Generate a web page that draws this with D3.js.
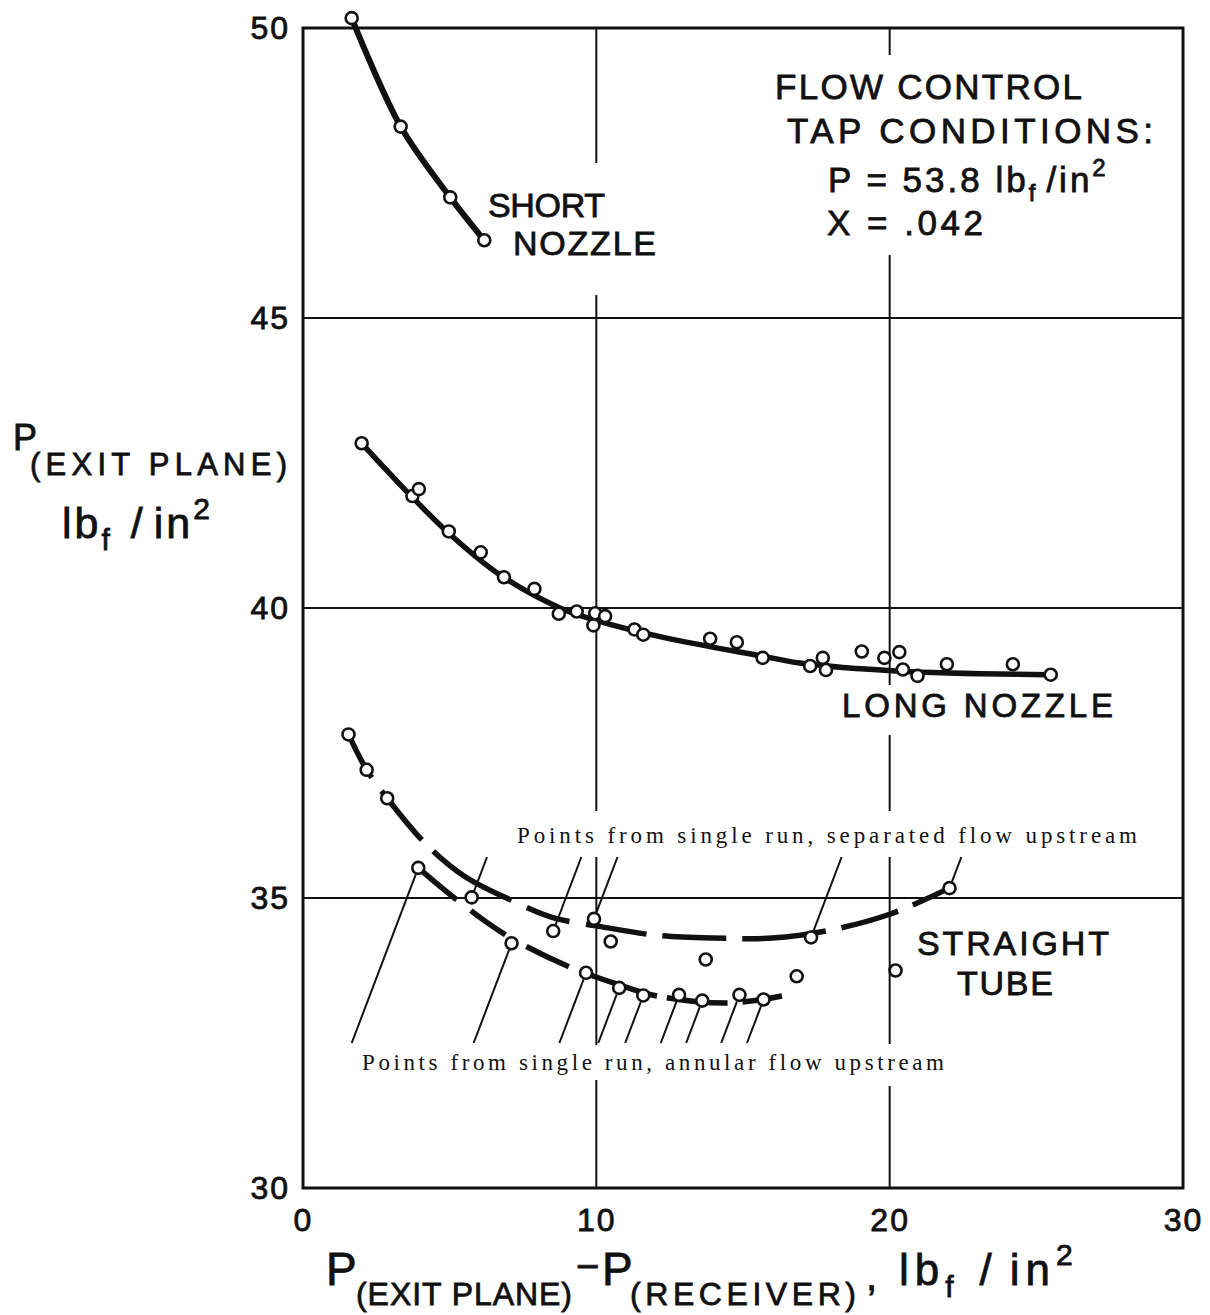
<!DOCTYPE html>
<html>
<head>
<meta charset="utf-8">
<script src="https://cdn.jsdelivr.net/npm/d3@7"></script>
<style>
  body { margin: 0; background: #fff; }
  svg { display: block; }
  .letter { font-family: "Liberation Sans", Arial, sans-serif; fill: #111; stroke: #111; stroke-width: 0.8px; }
  .serif { font-family: "Liberation Serif", serif; fill: #111; }
</style>
</head>
<body>
<svg id="chart" width="1210" height="1315"></svg>
<script>
// axis values
const xTicks = [0, 10, 20, 30];
const yTicks = [30, 35, 40, 45, 50];
const xGrid = [10, 20];
const yGrid = [35, 40, 45];

// measured points [dP, P exit plane]
const shortNozzle = [[1.66, 50.17], [3.33, 48.30], [5.02, 47.08], [6.18, 46.34]];

const longNozzle = [
  [2.0, 42.84], [3.73, 41.93], [3.95, 42.05], [4.97, 41.32], [6.06, 40.96],
  [6.85, 40.53], [7.89, 40.33], [8.72, 39.90], [9.33, 39.94], [9.96, 39.91],
  [10.3, 39.86], [9.9, 39.70], [11.3, 39.63], [11.6, 39.54], [13.88, 39.47],
  [14.79, 39.41], [15.67, 39.14], [17.29, 39.0], [17.72, 39.14], [17.83, 38.93],
  [19.05, 39.25], [19.82, 39.14], [20.33, 39.24], [20.45, 38.94], [20.95, 38.83],
  [21.95, 39.03], [24.2, 39.03], [25.49, 38.85]
];

const tubeStart = [[1.55, 37.82], [2.17, 37.21], [2.87, 36.72]];
const tubeSeparated = [[5.75, 35.01], [8.53, 34.43], [9.92, 34.64], [17.32, 34.32], [22.04, 35.17]];
const tubeAnnular = [
  [3.93, 35.52], [7.11, 34.22], [9.65, 33.71], [10.78, 33.45], [11.6, 33.32],
  [12.82, 33.33], [13.61, 33.23], [14.88, 33.33], [15.7, 33.25]
];
const tubeOther = [[10.49, 34.25], [13.73, 33.94], [16.83, 33.65], [20.2, 33.75]];

// faired curves as drawn on the original
const longFair = [
  [2.0, 42.84], [3.65, 41.95], [4.97, 41.29], [6.72, 40.57], [8.76, 40.0],
  [9.9, 39.8], [12.4, 39.48], [15.67, 39.17], [16.94, 39.05], [20.35, 38.91], [25.5, 38.85]
];
const tubeUpperFair = [
  [1.55, 37.82], [2.17, 37.21], [2.87, 36.72], [4.19, 35.93], [5.49, 35.38],
  [7.06, 34.97], [8.52, 34.66], [10, 34.52], [12, 34.36], [14, 34.31],
  [16, 34.31], [18, 34.45], [20, 34.72], [22.04, 35.17]
];
const tubeLowerFair = [
  [3.93, 35.52], [5.24, 34.97], [6.89, 34.37], [9.05, 33.82], [10.8, 33.5],
  [12.07, 33.31], [14.49, 33.19], [16.33, 33.31]
];

const svg = d3.select("#chart");
const x = d3.scaleLinear().domain([0, 30]).range([303, 1183]);
const y = d3.scaleLinear().domain([30, 50]).range([1188, 28]);
const ink = "#111";

// grid
const grid = svg.append("g").attr("stroke", ink).attr("stroke-width", 2);
grid.selectAll(".gx").data(xGrid).join("line").attr("class", "gx")
  .attr("x1", d => x(d)).attr("x2", d => x(d)).attr("y1", y(50)).attr("y2", y(30));
grid.selectAll(".gy").data(yGrid).join("line").attr("class", "gy")
  .attr("x1", x(0)).attr("x2", x(30)).attr("y1", d => y(d)).attr("y2", d => y(d));

// white gaps in the grid behind the lettering
const masks = svg.append("g").attr("fill", "#fff");
function gap(x0, y0, x1, y1) {
  masks.append("rect").attr("x", x0).attr("y", y0).attr("width", x1 - x0).attr("height", y1 - y0);
}
gap(x(10) - 4, 163, x(10) + 4, 295);
gap(x(20) - 4, 55, x(20) + 4, 255);
gap(x(20) - 4, 685, x(20) + 4, 735);
gap(x(10) - 4, 811, x(10) + 4, 857);
gap(x(20) - 4, 811, x(20) + 4, 857);
gap(x(10) - 4, 1045, x(10) + 4, 1080);
gap(x(20) - 4, 1044, x(20) + 4, 1086);

// frame
svg.append("rect")
  .attr("x", x(0)).attr("y", y(50))
  .attr("width", x(30) - x(0)).attr("height", y(30) - y(50))
  .attr("fill", "none").attr("stroke", ink).attr("stroke-width", 3);

// tick labels
svg.append("g")
  .attr("transform", `translate(${x(0)},0)`)
  .call(d3.axisLeft(y).tickValues(yTicks).tickSize(0).tickPadding(13))
  .call(g => g.select(".domain").remove())
  .selectAll("text").attr("class", "letter").attr("font-size", 32).attr("letter-spacing", 2);

svg.append("g")
  .attr("transform", `translate(0,${y(30)})`)
  .call(d3.axisBottom(x).tickValues(xTicks).tickSize(0).tickPadding(20))
  .call(g => g.select(".domain").remove())
  .selectAll("text").attr("class", "letter").attr("font-size", 32).attr("letter-spacing", 2);

// curves
const line = d3.line().x(d => x(d[0])).y(d => y(d[1])).curve(d3.curveCatmullRom.alpha(0.5));
const curves = svg.append("g").attr("fill", "none").attr("stroke", ink)
  .attr("stroke-linecap", "butt").attr("stroke-linejoin", "round");

curves.append("path").attr("d", line(shortNozzle)).attr("stroke-width", 6);
curves.append("path").attr("d", line(longFair)).attr("stroke-width", 5.5);
curves.append("path").attr("d", line(tubeUpperFair)).attr("stroke-width", 5.5)
  .attr("stroke-dasharray", "49,17,63,16,93,17,45,17,61,16,64,16,84,16,59,16,80");
curves.append("path").attr("d", line(tubeLowerFair)).attr("stroke-width", 5.5)
  .attr("stroke-dasharray", "50,18,42,24,47,12,81,10,61,15,40,200");

// leader lines
const lean = 0.38; // dx per dy, in pixels
const sepLeaderTop = 857;
const annLeaderBottom = 1043;
const r = 6;
const leaders = svg.append("g").attr("stroke", ink).attr("stroke-width", 2);

tubeSeparated.forEach(d => {
  const px = x(d[0]), py = y(d[1]);
  const n = Math.hypot(lean, 1);
  leaders.append("line")
    .attr("x1", px + lean / n * (r + 1)).attr("y1", py - 1 / n * (r + 1))
    .attr("x2", px + lean * (py - sepLeaderTop)).attr("y2", sepLeaderTop);
});
tubeAnnular.forEach(d => {
  const px = x(d[0]), py = y(d[1]);
  const n = Math.hypot(lean, 1);
  leaders.append("line")
    .attr("x1", px - lean / n * (r + 1)).attr("y1", py + 1 / n * (r + 1))
    .attr("x2", px - lean * (annLeaderBottom - py)).attr("y2", annLeaderBottom);
});

// points
const allPoints = [].concat(shortNozzle, longNozzle, tubeStart, tubeSeparated, tubeAnnular, tubeOther);
svg.append("g").selectAll("circle").data(allPoints).join("circle")
  .attr("cx", d => x(d[0])).attr("cy", d => y(d[1])).attr("r", r)
  .attr("fill", "#fff").attr("stroke", ink).attr("stroke-width", 2.6);

// lettering
const txt = svg.append("g");
function label(str, tx, ty, size, width, cls) {
  const t = txt.append("text").attr("class", cls || "letter")
    .attr("x", tx).attr("y", ty).attr("font-size", size).text(str);
  if (width) t.attr("textLength", width).attr("lengthAdjust", "spacing");
  return t;
}

// text with a subscript f and a superscript 2, e.g. lb_f / in^2
function unitLabel(tx, ty, size, small, spacing, fGap, slashGap) {
  const t = txt.append("text").attr("class", "letter")
    .attr("x", tx).attr("y", ty).attr("font-size", size).attr("letter-spacing", spacing);
  t.append("tspan").text("lb");
  t.append("tspan").attr("font-size", small).attr("dy", size * 0.28).text("f");
  t.append("tspan").attr("dx", fGap).attr("dy", -size * 0.28).text("/");
  t.append("tspan").attr("dx", slashGap).text("in");
  t.append("tspan").attr("font-size", small).attr("dy", -size * 0.45).text("2");
  return t;
}

label("SHORT", 488, 217, 34, 117);
label("NOZZLE", 513, 255, 34, 143);

label("FLOW CONTROL", 775, 99, 35, 307);
label("TAP CONDITIONS:", 787, 143, 35, 366);
const pLine = label("P = 53.8 ", 828, 192, 35).attr("letter-spacing", 3);
pLine.append("tspan").text("lb");
pLine.append("tspan").attr("font-size", 24).attr("dy", 9).text("f");
pLine.append("tspan").attr("dx", 8).attr("dy", -9).text("/in");
pLine.append("tspan").attr("font-size", 24).attr("dy", -16).text("2");
label("X = .042", 827, 235, 35).attr("letter-spacing", 3.5);

label("LONG NOZZLE", 842, 717, 33, 271);
label("STRAIGHT", 917, 955, 34, 192);
label("TUBE", 957, 995, 34, 96);

label("Points from single run, separated flow upstream", 517, 843, 23, 620, "serif");
label("Points from single run, annular flow upstream", 362, 1070, 23, 582, "serif");

// y axis title
label("P", 13, 450, 36);
label("(EXIT PLANE)", 30, 475, 31, 257);
unitLabel(62, 538, 43, 30, 3, 18, 8);

// x axis title
label("P", 326, 1285, 46);
label("(EXIT PLANE)", 356, 1305, 32, 216);
label("\u2212", 576, 1280, 40);
label("P", 602, 1285, 46);
label("(RECEIVER)", 630, 1305, 32, 226);
label(",", 866, 1290, 40);
unitLabel(899, 1285, 44, 30, 6, 20, 12);
</script>
</body>
</html>
